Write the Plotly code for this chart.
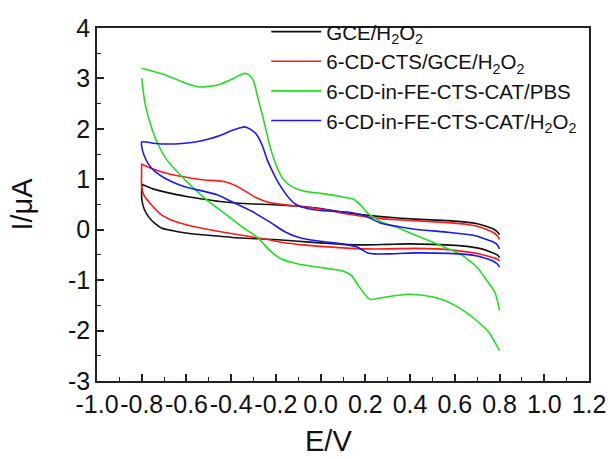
import plotly.graph_objects as go

# ---------------- data ----------------
series_names = ["GCE/H<sub>2</sub>O<sub>2</sub>",
                "6-CD-CTS/GCE/H<sub>2</sub>O<sub>2</sub>",
                "6-CD-in-FE-CTS-CAT/PBS",
                "6-CD-in-FE-CTS-CAT/H<sub>2</sub>O<sub>2</sub>"]
series_colors = ["#111111", "#ff1a1a", "#22dd22", "#1a1aee"]

# GCE/H2O2
black_upper_x = [-0.8, -0.75, -0.68, -0.6, -0.53, -0.45, -0.38, -0.3, -0.23, -0.15, -0.08, 0.0, 0.12, 0.27, 0.42, 0.57, 0.65, 0.7, 0.74, 0.77, 0.79, 0.8]
black_upper_y = [0.9, 0.81, 0.73, 0.66, 0.61, 0.56, 0.53, 0.51, 0.5, 0.48, 0.46, 0.42, 0.33, 0.26, 0.21, 0.18, 0.15, 0.12, 0.07, 0.02, -0.04, -0.1]
black_lower_x = [-0.8, -0.8, -0.79, -0.77, -0.74, -0.71, -0.66, -0.61, -0.53, -0.45, -0.38, -0.28, -0.19, -0.1, 0.0, 0.1, 0.2, 0.3, 0.4, 0.5, 0.6, 0.67, 0.72, 0.76, 0.79, 0.8]
black_lower_y = [0.9, 0.62, 0.42, 0.26, 0.12, 0.03, -0.02, -0.06, -0.1, -0.13, -0.16, -0.18, -0.2, -0.23, -0.26, -0.29, -0.3, -0.29, -0.28, -0.29, -0.31, -0.34, -0.38, -0.44, -0.5, -0.55]

# 6-CD-CTS/GCE/H2O2
red_upper_x = [-0.8, -0.74, -0.68, -0.6, -0.53, -0.44, -0.4, -0.35, -0.29, -0.23, -0.13, -0.05, 0.0, 0.12, 0.27, 0.42, 0.57, 0.65, 0.7, 0.74, 0.77, 0.79, 0.8]
red_upper_y = [1.3, 1.19, 1.11, 1.04, 0.99, 0.96, 0.91, 0.8, 0.64, 0.54, 0.48, 0.44, 0.41, 0.31, 0.22, 0.18, 0.14, 0.11, 0.07, 0.01, -0.05, -0.12, -0.19]
red_lower_x = [-0.8, -0.8, -0.79, -0.76, -0.71, -0.66, -0.6, -0.53, -0.46, -0.38, -0.31, -0.23, -0.16, -0.08, 0.0, 0.1, 0.2, 0.3, 0.42, 0.52, 0.6, 0.67, 0.72, 0.76, 0.79, 0.8]
red_lower_y = [1.3, 0.85, 0.68, 0.51, 0.29, 0.18, 0.1, 0.03, -0.03, -0.09, -0.14, -0.2, -0.26, -0.3, -0.33, -0.36, -0.38, -0.38, -0.37, -0.38, -0.41, -0.45, -0.49, -0.54, -0.58, -0.62]

# 6-CD-in-FE-CTS-CAT/PBS
green_upper_x = [-0.8, -0.69, -0.6, -0.54, -0.46, -0.39, -0.36, -0.34, -0.32, -0.3, -0.28, -0.256, -0.235, -0.212, -0.19, -0.167, -0.13, -0.07, 0.0, 0.1, 0.15, 0.18, 0.21, 0.27, 0.35, 0.42, 0.54, 0.63, 0.7, 0.75, 0.78, 0.8]
green_upper_y = [3.2, 3.06, 2.9, 2.83, 2.87, 3.0, 3.07, 3.1, 3.07, 2.95, 2.6, 2.2, 1.8, 1.44, 1.18, 1.0, 0.86, 0.76, 0.72, 0.65, 0.6, 0.48, 0.33, 0.16, 0.03, -0.1, -0.32, -0.5, -0.75, -1.05, -1.25, -1.6]
green_lower_x = [-0.8, -0.785, -0.76, -0.73, -0.69, -0.62, -0.55, -0.49, -0.41, -0.34, -0.28, -0.23, -0.18, -0.1, 0.0, 0.1, 0.14, 0.17, 0.22, 0.27, 0.39, 0.47, 0.54, 0.6, 0.66, 0.71, 0.75, 0.8]
green_lower_y = [3.0, 2.5, 2.08, 1.72, 1.4, 1.05, 0.75, 0.52, 0.26, 0.02, -0.16, -0.4, -0.57, -0.68, -0.75, -0.82, -0.92, -1.12, -1.38, -1.35, -1.28, -1.31, -1.38, -1.5, -1.67, -1.85, -2.02, -2.4]

# 6-CD-in-FE-CTS-CAT/H2O2
blue_upper_x = [-0.8, -0.74, -0.68, -0.62, -0.56, -0.5, -0.45, -0.4, -0.36, -0.34, -0.31, -0.285, -0.26, -0.24, -0.22, -0.2, -0.17, -0.14, -0.11, -0.06, 0.0, 0.12, 0.17, 0.21, 0.27, 0.35, 0.42, 0.57, 0.65, 0.7, 0.74, 0.77, 0.79, 0.8]
blue_upper_y = [1.74, 1.71, 1.7, 1.71, 1.74, 1.8, 1.87, 1.96, 2.02, 2.04, 1.98, 1.88, 1.66, 1.4, 1.2, 1.02, 0.8, 0.62, 0.5, 0.42, 0.38, 0.35, 0.31, 0.25, 0.13, 0.06, 0.01, -0.05, -0.09, -0.13, -0.19, -0.24, -0.3, -0.38]
blue_lower_x = [-0.8, -0.79, -0.77, -0.74, -0.7, -0.65, -0.6, -0.53, -0.46, -0.39, -0.31, -0.23, -0.16, -0.1, -0.05, 0.0, 0.06, 0.12, 0.16, 0.19, 0.21, 0.24, 0.3, 0.42, 0.57, 0.65, 0.7, 0.74, 0.77, 0.79, 0.8]
blue_lower_y = [1.65, 1.48, 1.3, 1.15, 1.03, 0.92, 0.84, 0.77, 0.69, 0.54, 0.37, 0.16, -0.04, -0.15, -0.2, -0.23, -0.26, -0.3, -0.34, -0.41, -0.46, -0.48, -0.48, -0.46, -0.47, -0.49, -0.52, -0.57, -0.62, -0.68, -0.74]

x_tickvals = [-1.0, -0.8, -0.6, -0.4, -0.2, 0.0, 0.2, 0.4, 0.6, 0.8, 1.0, 1.2]
x_ticktext = ["-1.0", "-0.8", "-0.6", "-0.4", "-0.2", "0.0", "0.2", "0.4", "0.6", "0.8", "1.0", "1.2"]
y_tickvals = [-3, -2, -1, 0, 1, 2, 3, 4]
y_ticktext = ["-3", "-2", "-1", "0", "1", "2", "3", "4"]
x_title = "E/V"
y_title = "I/μA"

# ---------------- figure ----------------
branches = [
    (black_upper_x, black_upper_y, black_lower_x, black_lower_y, True),
    (red_upper_x, red_upper_y, red_lower_x, red_lower_y, True),
    (green_upper_x, green_upper_y, green_lower_x, green_lower_y, False),
    (blue_upper_x, blue_upper_y, blue_lower_x, blue_lower_y, True),
]

FONT = "Liberation Sans, Arial, sans-serif"
fig = go.Figure()
for (ux, uy, lx, ly, joined), name, color in zip(branches, series_names, series_colors):
    if joined:
        xs = list(reversed(lx)) + list(ux)
        ys = list(reversed(ly)) + list(uy)
    else:
        xs = list(reversed(lx)) + [None] + list(ux)
        ys = list(reversed(ly)) + [None] + list(uy)
    fig.add_trace(go.Scatter(x=xs, y=ys, mode="lines", name=name,
                             line=dict(color=color, width=1.6, shape="spline", smoothing=0.6),
                             connectgaps=False))

axis_common = dict(showgrid=False, zeroline=False, showline=True, mirror=True,
                   linecolor="#222222", linewidth=1.6, ticks="inside", ticklen=7,
                   tickwidth=1.6, tickcolor="#222222", tickangle=0, automargin=False,
                   tickfont=dict(family=FONT, size=25, color="#111111"))

fig.update_xaxes(range=[-1.0, 1.2], tickvals=x_tickvals, ticktext=x_ticktext,
                 minor=dict(ticks="inside", dtick=0.1, tick0=-1.0, ticklen=4, tickwidth=1.4, tickcolor="#222222"),
                 **axis_common)
fig.update_yaxes(range=[-3, 4], tickvals=y_tickvals, ticktext=y_ticktext,
                 minor=dict(ticks="inside", dtick=0.5, tick0=-3, ticklen=4, tickwidth=1.4, tickcolor="#222222"),
                 title=dict(text=y_title, font=dict(family=FONT, size=29, color="#111111"), standoff=27),
                 **axis_common)

# x-axis title (slightly left of centre in the reference)
fig.add_annotation(text=x_title, xref="paper", yref="paper", x=0.47, y=-0.17,
                   xanchor="center", yanchor="middle", showarrow=False,
                   font=dict(family=FONT, size=29, color="#111111"))

fig.update_layout(
    width=610, height=459,
    margin=dict(l=97, r=21, t=17, b=78),
    paper_bgcolor="white", plot_bgcolor="white",
    showlegend=True,
    legend=dict(x=0.344, y=1.046, xanchor="left", yanchor="top",
                bgcolor="rgba(0,0,0,0)", borderwidth=0,
                font=dict(family=FONT, size=20.5, color="#111111"),
                itemwidth=50, tracegroupgap=0),
)

# remove the browser's default 8px body margin so the figure sits at the window's corner
fig.write_html("out.html", config={"displayModeBar": False},
               post_script="document.body.style.margin='0';")
